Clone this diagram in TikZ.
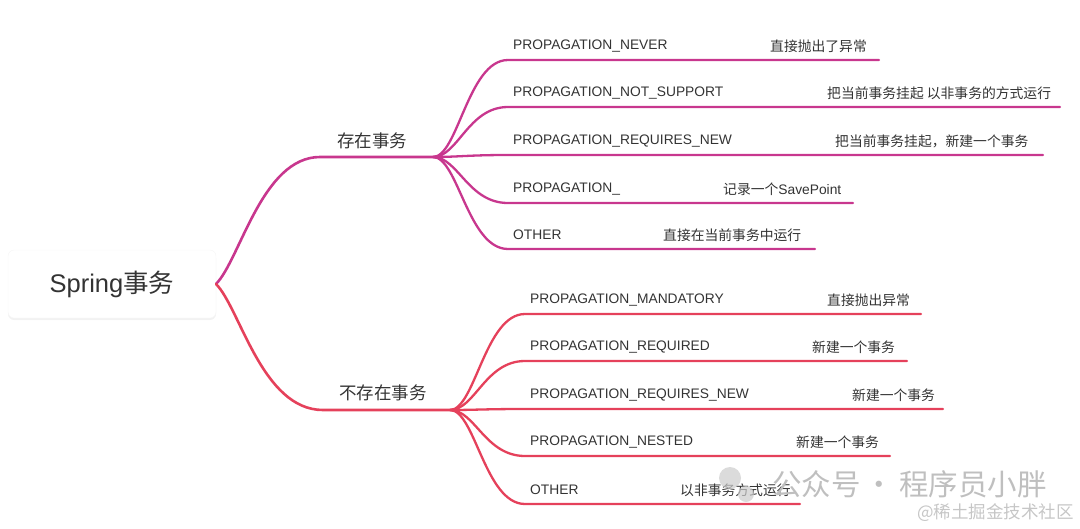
\documentclass[tikz,border=0pt]{standalone}
\usepackage{fontspec}
\setmainfont{Liberation Sans}
\newfontfamily\cjk{Noto Sans CJK SC}
\usetikzlibrary{shadows}
\definecolor{exist}{HTML}{C8378E}
\definecolor{noexist}{HTML}{E5415B}
\definecolor{txt}{HTML}{333333}
\tikzset{
  branch/.style={line width=2.6pt, line cap=round},
  leaf/.style={line width=2.3pt, line cap=round},
  lbl/.style={anchor=west, inner sep=0pt, text=txt, font=\fontsize{13.8}{16}\selectfont},
  head/.style={inner sep=0pt, text=txt, font=\fontsize{17.5}{20}\cjk},
}
\begin{document}
\begin{tikzpicture}[x=1pt, y=-1pt]
	\useasboundingbox (0,0) rectangle (1080,528);
	\node[fill=white, draw=gray!8, rounded corners=6pt, minimum width=208pt, minimum height=68pt,
		drop shadow={opacity=0.10, shadow xshift=0pt, shadow yshift=-2pt}, text=txt,
		font=\fontsize{25.5}{30}\selectfont] (root) at (112,284) {Spring{\cjk 事务}};
	\coordinate (rootr) at (216,284);
	% branch: transaction exists
	\coordinate (up) at (320,157);
	\coordinate (upfan) at (433,157);
	\draw[branch, exist] (rootr) .. controls (240,260) and (262,157) .. (up) -- (upfan);
	\node[head] (exists) at (372,141) {存在事务};
	\foreach \y/\e/\dx/\a/\b [count=\i] in {
		60/879/770/PROPAGATION\_NEVER/{\cjk 直接抛出了异常},
		107/1060/827/PROPAGATION\_NOT\_SUPPORT/{\cjk 把当前事务挂起 以非事务的方式运行},
		155/1043/835/PROPAGATION\_REQUIRES\_NEW/{\cjk 把当前事务挂起，新建一个事务},
		203/853/723/PROPAGATION\_/{{\cjk 记录一个}SavePoint},
		249/815/663/OTHER/{\cjk 直接在当前事务中运行}}{
		\coordinate (u\i s) at (508,\y);
		\coordinate (u\i e) at (\e,\y);
		\draw[leaf, exist] (upfan) .. controls (458,157) and (468,\y) .. (u\i s) -- (u\i e);
		\node[lbl] (u\i) at (513,\y-14) {\a};
		\node[lbl] (u\i d) at (\dx,\y-14) {\b};
	}
	% branch: no transaction
	\coordinate (down) at (323,410);
	\coordinate (downfan) at (450,410);
	\draw[branch, noexist] (rootr) .. controls (240,308) and (262,410) .. (down) -- (downfan);
	\node[head] (noexists) at (383,393) {不存在事务};
	\foreach \y/\e/\dx/\a/\b [count=\i] in {
		314/921/827/PROPAGATION\_MANDATORY/{\cjk 直接抛出异常},
		361/907/812/PROPAGATION\_REQUIRED/{\cjk 新建一个事务},
		409/943/852/PROPAGATION\_REQUIRES\_NEW/{\cjk 新建一个事务},
		456/890/796/PROPAGATION\_NESTED/{\cjk 新建一个事务},
		504/800/680/OTHER/{\cjk 以非事务方式运行}}{
		\coordinate (d\i s) at (525,\y);
		\coordinate (d\i e) at (\e,\y);
		\draw[leaf, noexist] (downfan) .. controls (475,410) and (485,\y) .. (d\i s) -- (d\i e);
		\node[lbl] (d\i) at (530,\y-14) {\a};
		\node[lbl] (d\i d) at (\dx,\y-14) {\b};
	}
	% watermark
	\fill[gray!40, opacity=0.7] (730,478) circle (11pt);
	\fill[gray!40, opacity=0.7] (746,494) circle (8pt);
	\node[anchor=west, inner sep=0pt, text=gray!50, font=\fontsize{29.5}{32}\cjk] (wm) at (772,484)
		{公众号\hspace{4pt}·\hspace{5pt}程序员小胖};
	\node[anchor=east, inner sep=0pt, text=gray!45, font=\fontsize{17.5}{20}\cjk] (site) at (1074,513) {@稀土掘金技术社区};
\end{tikzpicture}
\end{document}
